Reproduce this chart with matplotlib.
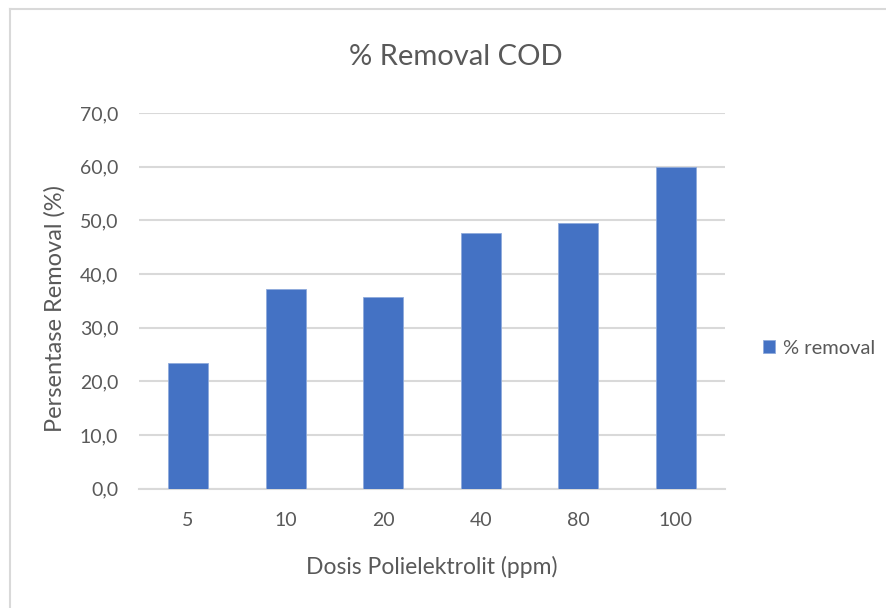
import matplotlib
matplotlib.use("Agg")
from matplotlib import pyplot as plt
from matplotlib.lines import Line2D
from matplotlib.ticker import FuncFormatter

# Data
dosis = ["5", "10", "20", "40", "80", "100"]
removal = [23.4, 37.2, 35.7, 47.7, 49.5, 60.0]

plt.rcParams["font.family"] = ["Lato", "DejaVu Sans"]
text_color = "#595959"
bar_color = "#4472C4"

fig = plt.figure(figsize=(8.86, 6.08), dpi=100)
ax = fig.add_axes([0.157, 0.196, 0.661, 0.618])

x = range(len(dosis))
ax.bar(x, removal, width=0.41, color=bar_color, edgecolor="#8FAADC",
       linewidth=0.6, label="% removal", zorder=3)

ax.set_xlim(-0.5, len(dosis) - 0.5)
ax.set_ylim(0, 70)
ax.set_yticks(range(0, 71, 10))
ax.yaxis.set_major_formatter(FuncFormatter(lambda v, p: f"{v:.1f}".replace(".", ",")))
ax.set_xticks(list(x))
ax.set_xticklabels(dosis)

ax.grid(axis="y", color="#D9D9D9", linewidth=1.5, zorder=0)
for s in ["top", "right", "left"]:
    ax.spines[s].set_visible(False)
ax.spines["bottom"].set_color("#D9D9D9")
ax.spines["bottom"].set_linewidth(1.5)
ax.tick_params(axis="both", length=0, labelsize=14, colors=text_color)
ax.tick_params(axis="y", pad=15)
ax.tick_params(axis="x", pad=17)

fig.text(0.515, 0.906, "% Removal COD", fontsize=21, color=text_color,
         ha="center", va="center")
ax.set_xlabel("Dosis Polielektrolit (ppm)", fontsize=16.5, color=text_color, labelpad=19)
ax.set_ylabel("Persentase Removal (%)", fontsize=17, color=text_color)
ax.yaxis.set_label_coords(-0.125, 0.481)

fig.legend(loc="center left", bbox_to_anchor=(0.861, 0.427), frameon=False,
           fontsize=14.5, labelcolor=text_color, handlelength=0.6, handleheight=0.6,
           handletextpad=0.4, borderaxespad=0, borderpad=0)

# chart frame (only top and left edges visible)
fig.add_artist(Line2D([0.011, 0.011], [0, 0.985], color="#D9D9D9", linewidth=1.5))
fig.add_artist(Line2D([0.011, 1.0], [0.985, 0.985], color="#D9D9D9", linewidth=1.5))

plt.savefig("out.png", dpi=100, facecolor="white")
